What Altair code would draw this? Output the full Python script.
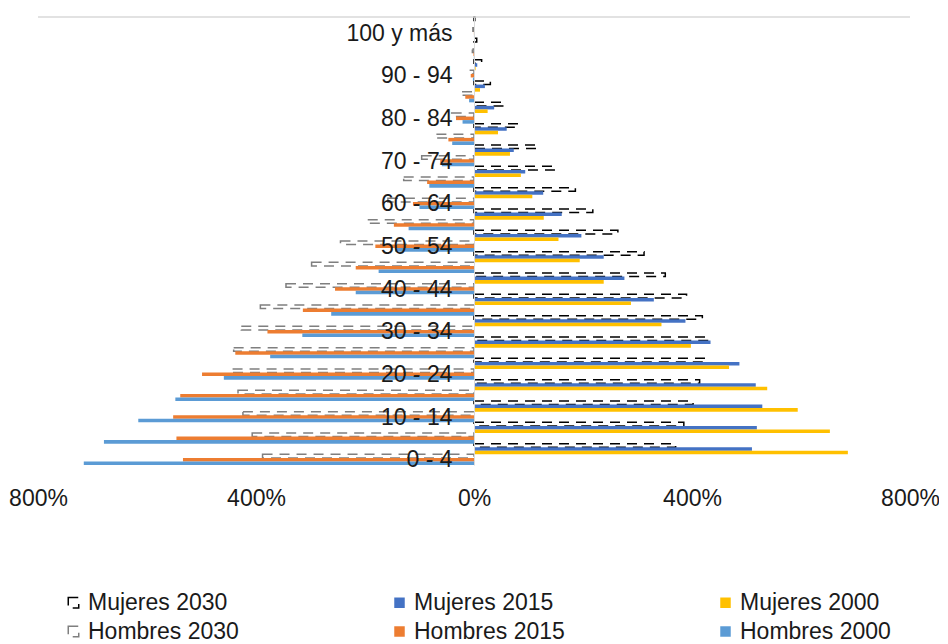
import altair as alt
import pandas as pd

ages = ["0 - 4", "5 - 9", "10 - 14", "15 - 19", "20 - 24", "25 - 29", "30 - 34",
        "35 - 39", "40 - 44", "45 - 49", "50 - 54", "55 - 59", "60 - 64", "65 - 69",
        "70 - 74", "75 - 79", "80 - 84", "85 - 89", "90 - 94", "95 - 99", "100 y más"]

# order of bars inside each age group, top to bottom
series = ["Mujeres 2030", "Mujeres 2015", "Mujeres 2000",
          "Hombres 2030", "Hombres 2015", "Hombres 2000"]
# order of legend entries (filled column by column)
legend_order = ["Mujeres 2030", "Hombres 2030", "Mujeres 2015",
                "Hombres 2015", "Mujeres 2000", "Hombres 2000"]

# values in percent (men drawn to the left)
hombres_2000 = [716, 679, 616, 548, 459, 374, 315, 262, 217, 175, 145, 120, 100, 82, 59, 40, 21, 9, 2, 0.3, 0.1]
hombres_2015 = [534, 546, 552, 539, 499, 438, 379, 314, 255, 217, 181, 147, 112, 86, 62, 47, 33, 16, 6, 1, 0.2]
hombres_2030 = [388, 407, 424, 433, 443, 441, 427, 392, 345, 298, 245, 195, 158, 129, 96, 69, 41, 22, 8, 3, 2]
mujeres_2000 = [686, 653, 594, 538, 468, 398, 344, 288, 238, 194, 155, 128, 107, 86, 66, 44, 25, 11, 3, 0.6, 0.1]
mujeres_2015 = [510, 519, 529, 517, 487, 434, 388, 330, 276, 238, 197, 161, 127, 94, 73, 60, 37, 20, 6, 1.5, 0.3]
mujeres_2030 = [370, 385, 402, 414, 425, 430, 419, 390, 351, 312, 264, 218, 186, 149, 116, 81, 55, 30, 14, 5, 1.5]

# styles, in legend_order
fill_colors = ["transparent", "transparent", "#4472C4", "#ED7D31", "#FFC000", "#5B9BD5"]
stroke_colors = ["#000000", "#7F7F7F", "transparent", "transparent", "transparent", "transparent"]
dash_styles = [[10, 7], [10, 7], [1, 0], [1, 0], [1, 0], [1, 0]]

x_ticks = [-800, -400, 0, 400, 800]

values_by_series = {
    "Mujeres 2030": mujeres_2030,
    "Mujeres 2015": mujeres_2015,
    "Mujeres 2000": mujeres_2000,
    "Hombres 2030": hombres_2030,
    "Hombres 2015": hombres_2015,
    "Hombres 2000": hombres_2000,
}

rows = []
for s, vals in values_by_series.items():
    sign = -1 if s.startswith("Hombres") else 1
    for a, v in zip(ages, vals):
        rows.append({"edad": a, "serie": s, "valor": sign * v})
df = pd.DataFrame(rows)

FONT = "Liberation Sans"
TXT = "#1a1a1a"

W = 872

legend = alt.Legend(
    title=None, orient="none", legendX=24, legendY=574, columns=3,
    columnPadding=149, rowPadding=5, symbolType="square", symbolSize=110,
    symbolStrokeWidth=1.5, labelFontSize=23, labelFont=FONT, labelColor=TXT,
    labelOffset=3,
)

bars = alt.Chart(df).mark_bar(strokeWidth=1.5).encode(
    x=alt.X("valor:Q", scale=alt.Scale(domain=[-800, 800], nice=False, zero=False),
            axis=alt.Axis(values=x_ticks, labelExpr="abs(datum.value) + '%'",
                          title=None, domain=False, ticks=False, grid=False,
                          labelFlush=False, labelOverlap=False,
                          labelFontSize=23, labelFont=FONT, labelColor=TXT,
                          labelPadding=22)),
    y=alt.Y("edad:N", sort=list(reversed(ages)),
            scale=alt.Scale(paddingInner=0, paddingOuter=0),
            axis=alt.Axis(values=ages[::2], title=None, ticks=False, grid=False,
                          offset=-W / 2, domainColor="#d9d9d9", domainWidth=1,
                          labelFontSize=23, labelFont=FONT, labelColor=TXT,
                          labelPadding=22, labelOffset=6, zindex=1)),
    yOffset=alt.YOffset("serie:N", sort=series,
                        scale=alt.Scale(domain=series, paddingInner=0, paddingOuter=0)),
    fill=alt.Fill("serie:N", scale=alt.Scale(domain=legend_order, range=fill_colors), legend=legend),
    stroke=alt.Stroke("serie:N", scale=alt.Scale(domain=legend_order, range=stroke_colors), legend=legend),
    strokeDash=alt.StrokeDash("serie:N", scale=alt.Scale(domain=legend_order, range=dash_styles), legend=legend),
)

top_line = alt.Chart(alt.Data(values=[{"k": 1}])).mark_rule(color="#d9d9d9", strokeWidth=1.5).encode(
    y=alt.value(0)
)

chart = alt.layer(bars, top_line).properties(
    width=W, height=448,
    autosize=alt.AutoSizeParams(type="none"),
    padding={"left": 30, "top": 9, "right": 29, "bottom": 177},
).configure_view(stroke=None)

chart.save("out.html", embed_options={"renderer": "svg", "actions": False})
